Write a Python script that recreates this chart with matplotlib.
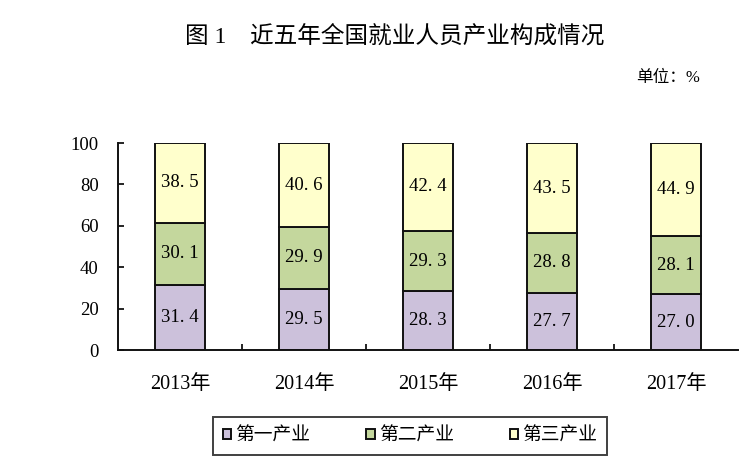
import matplotlib
matplotlib.use('Agg')
import matplotlib.pyplot as plt
import numpy as np

plt.rcParams['font.family'] = ['Liberation Serif', 'Noto Sans CJK SC', 'DejaVu Sans']

years = ['2013年', '2014年', '2015年', '2016年', '2017年']
primary = [31.4, 29.5, 28.3, 27.7, 27.0]
secondary = [30.1, 29.9, 29.3, 28.8, 28.1]
tertiary = [38.5, 40.6, 42.4, 43.5, 44.9]
series_names = ['第一产业', '第二产业', '第三产业']
colors = ['#CCC1DB', '#C4D79D', '#FFFFCC']

fig = plt.figure(figsize=(7.39, 4.73), dpi=100)
ax = fig.add_axes([118/739, 1-350/473, 620/739, 207/473])

x = np.arange(len(years))
w = 0.4
bottom = np.zeros(len(years))
bars = []
for vals, c, name in zip([primary, secondary, tertiary], colors, series_names):
    b = ax.bar(x, vals, w, bottom=bottom, color=c, edgecolor='#111111', lw=1.4, label=name)
    bars.append(b)
    for xi, v, b0 in zip(x, vals, bottom):
        ax.text(xi, b0 + v/2, f'{v:.1f}'.replace('.', '. '), ha='center', va='center', fontsize=13.5)
    bottom += np.array(vals)

ax.set_xlim(-0.5, 4.5)
ax.set_ylim(0, 100)
ax.set_yticks(range(0, 101, 20))
ax.tick_params(axis='y', direction='in', length=4, width=1.2, labelsize=13.5, pad=14)
ax.set_xticks(x)
ax.set_xticklabels(years, fontsize=14.5)
ax.tick_params(axis='x', length=0, pad=18)
ax.set_xticks(np.arange(0.5, 4.5, 1), minor=True)
ax.tick_params(axis='x', which='minor', direction='in', length=4, width=1.2)
for s in ['top', 'right']:
    ax.spines[s].set_visible(False)
for s in ['left', 'bottom']:
    ax.spines[s].set_linewidth(1.4)
    ax.spines[s].set_color('#111111')

fig.text(395/739, 1-37/473, '图 1\u3000近五年全国就业人员产业构成情况', ha='center', va='center', fontsize=17)
fig.text(700/739, 1-78/473, '单位：%', ha='right', va='center', fontsize=12)

leg = fig.legend(handles=bars, labels=series_names, loc='center', ncol=3,
                 bbox_to_anchor=(410/739, 1-436/473), frameon=True, fancybox=False,
                 fontsize=13.5, handlelength=0.45, handleheight=0.45, handletextpad=0.2,
                 columnspacing=3.0, borderpad=0.55, edgecolor='#111111', borderaxespad=0)
leg.get_frame().set_linewidth(1.4)

fig.savefig('out.png', dpi=100)
